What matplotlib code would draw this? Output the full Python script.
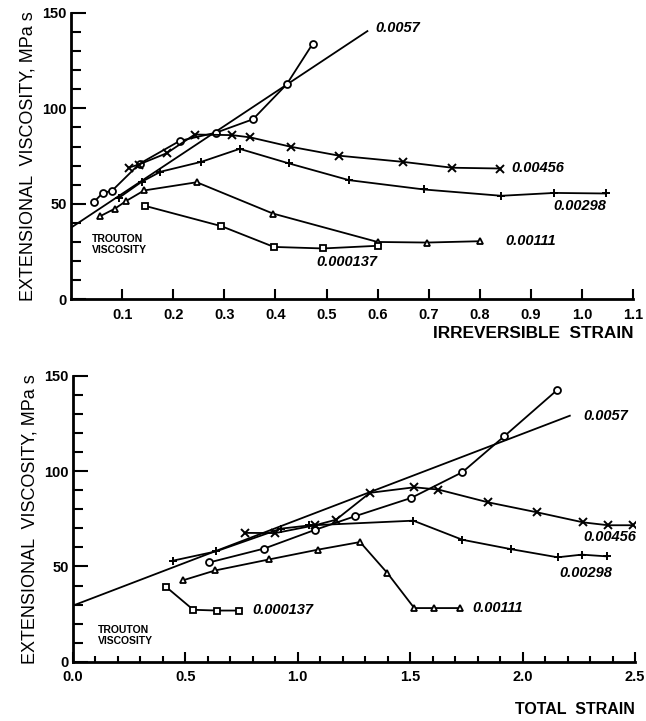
import matplotlib
matplotlib.use("Agg")
import matplotlib.pyplot as plt
from matplotlib.ticker import MultipleLocator

plt.rcParams['font.family'] = ['Liberation Sans', 'DejaVu Sans']
narrow = ["Liberation Sans Narrow", "Liberation Sans", "DejaVu Sans"]

# ---- irreversible strain panel ----
irr_fit_x = [0.0, 0.58]
irr_fit_y = [37.5, 140.5]

irr_c57_x = [0.045, 0.062, 0.080, 0.134, 0.213, 0.284, 0.356, 0.422, 0.473]
irr_c57_y = [51.0, 55.7, 56.8, 71.0, 83.0, 87.3, 94.3, 112.6, 133.9]

irr_c456_x = [0.113, 0.132, 0.187, 0.242, 0.315, 0.351, 0.430, 0.525, 0.649, 0.746, 0.840]
irr_c456_y = [69.0, 70.5, 76.5, 86.3, 86.0, 84.8, 79.9, 75.2, 72.0, 68.9, 68.5]

irr_c298_x = [0.093, 0.138, 0.175, 0.255, 0.330, 0.426, 0.544, 0.691, 0.842, 0.946, 1.047]
irr_c298_y = [53.0, 61.5, 66.8, 72.0, 78.8, 71.2, 62.4, 57.5, 54.2, 55.7, 55.4]

irr_c111_x = [0.057, 0.086, 0.108, 0.143, 0.246, 0.395, 0.600, 0.697, 0.801]
irr_c111_y = [43.5, 47.5, 51.5, 57.0, 61.3, 44.9, 30.0, 29.7, 30.4]

irr_c137_x = [0.145, 0.294, 0.397, 0.493, 0.600]
irr_c137_y = [48.9, 38.3, 27.4, 26.6, 28.0]

irr_ticks = [0.1, 0.2, 0.3, 0.4, 0.5, 0.6, 0.7, 0.8, 0.9, 1.0, 1.1]
irr_ticklabels = ["0.1", "0.2", "0.3", "0.4", "0.5", "0.6", "0.7", "0.8", "0.9", "1.0", "1.1"]

# ---- total strain panel ----
tot_fit_x = [0.0, 2.21]
tot_fit_y = [29.5, 129.0]

tot_c57_x = [0.606, 0.851, 1.077, 1.254, 1.504, 1.732, 1.919, 2.152]
tot_c57_y = [52.1, 59.4, 69.2, 76.3, 85.9, 99.4, 118.3, 142.3]

tot_c456_x = [0.765, 0.90, 1.077, 1.170, 1.321, 1.518, 1.625, 1.847, 2.063, 2.270, 2.380, 2.493]
tot_c456_y = [67.6, 67.5, 71.6, 74.5, 88.6, 91.5, 90.3, 83.6, 78.4, 73.1, 71.6, 71.6]

tot_c298_x = [0.443, 0.636, 0.924, 1.050, 1.514, 1.732, 1.947, 2.156, 2.263, 2.374]
tot_c298_y = [53.0, 57.9, 69.8, 71.5, 74.0, 64.0, 59.1, 54.8, 56.2, 55.3]

tot_c111_x = [0.488, 0.632, 0.873, 1.089, 1.277, 1.398, 1.518, 1.607, 1.721]
tot_c111_y = [42.7, 47.9, 53.7, 58.8, 62.8, 46.6, 28.2, 28.2, 28.2]

tot_c137_x = [0.412, 0.535, 0.639, 0.740]
tot_c137_y = [39.5, 27.3, 26.9, 26.9]

tot_ticks = [0.0, 0.5, 1.0, 1.5, 2.0, 2.5]
tot_ticklabels = ["0.0", "0.5", "1.0", "1.5", "2.0", "2.5"]

rate_labels = ["0.0057", "0.00456", "0.00298", "0.00111", "0.000137"]

fig = plt.figure(figsize=(6.46, 7.21), dpi=100)
ax1 = fig.add_axes([0.110, 0.585, 0.870, 0.397])
ax2 = fig.add_axes([0.113, 0.082, 0.870, 0.397])

lk = dict(color="black", lw=1.3)
mk = dict(mfc="white", mec="black", mew=1.3, ms=5)


def draw_panel(ax, fit, series):
    ax.plot(fit[0], fit[1], **lk)
    for (x, y, m) in series:
        if m in ("x", "+"):
            ax.plot(x, y, marker=m, ms=6, mew=1.4, **lk)
        else:
            ax.plot(x, y, marker=m, **mk, **lk)


draw_panel(ax1, (irr_fit_x, irr_fit_y),
           [(irr_c57_x, irr_c57_y, "o"),
            (irr_c456_x, irr_c456_y, "x"),
            (irr_c298_x, irr_c298_y, "+"),
            (irr_c111_x, irr_c111_y, "^"),
            (irr_c137_x, irr_c137_y, "s")])

draw_panel(ax2, (tot_fit_x, tot_fit_y),
           [(tot_c57_x, tot_c57_y, "o"),
            (tot_c456_x, tot_c456_y, "x"),
            (tot_c298_x, tot_c298_y, "+"),
            (tot_c111_x, tot_c111_y, "^"),
            (tot_c137_x, tot_c137_y, "s")])

lab = dict(fontsize=10.5, style="italic", fontweight="bold", va="center", ha="left")
ax1.text(0.596, 142, rate_labels[0], **lab)
ax1.text(0.862, 68.7, rate_labels[1], **lab)
ax1.text(0.945, 49.0, rate_labels[2], **lab)
ax1.text(0.850, 30.4, rate_labels[3], **lab)
ax1.text(0.480, 19.4, rate_labels[4], **lab)

ax2.text(2.27, 129, rate_labels[0], **lab)
ax2.text(2.27, 65.6, rate_labels[1], **lab)
ax2.text(2.165, 46.7, rate_labels[2], **lab)
ax2.text(1.775, 28.3, rate_labels[3], **lab)
ax2.text(0.796, 27.3, rate_labels[4], **lab)

tr = dict(fontsize=7.5, fontweight="bold", ha="left", va="center", linespacing=1.1, family=narrow)
ax1.text(0.041, 28.5, "TROUTON\nVISCOSITY", **tr)
ax2.text(0.111, 14.0, "TROUTON\nVISCOSITY", **tr)

for ax in (ax1, ax2):
    ax.set_ylim(0, 150)
    ax.spines["top"].set_visible(False)
    ax.spines["right"].set_visible(False)
    ax.spines["left"].set_linewidth(2)
    ax.spines["bottom"].set_linewidth(2)
    ax.yaxis.set_major_locator(MultipleLocator(50))
    ax.yaxis.set_minor_locator(MultipleLocator(10))
    ax.tick_params(axis="both", which="both", direction="in", width=1.5)
    ax.tick_params(axis="y", which="major", length=11, labelsize=10.5, pad=3)
    ax.tick_params(axis="y", which="minor", length=7)
    ax.tick_params(axis="x", which="major", length=7, labelsize=10.5, pad=6)
    ax.tick_params(axis="x", which="minor", length=4)
    ax.set_ylabel("EXTENSIONAL  VISCOSITY, MPa s", fontsize=13, labelpad=4)
    for t in ax.get_yticklabels():
        t.set_fontweight("bold")
        t.set_family(narrow)

ax1.set_xlim(0, 1.1)
ax1.set_xticks(irr_ticks)
ax1.set_xticklabels(irr_ticklabels, fontweight="bold", family=narrow)
ax1.set_xlabel("IRREVERSIBLE  STRAIN", fontsize=12.4, fontweight="bold", family=narrow,
               loc="right", labelpad=3)

ax2.set_xlim(0, 2.5)
ax2.set_xticks(tot_ticks)
ax2.xaxis.set_minor_locator(MultipleLocator(0.1))
ax2.set_xticklabels(tot_ticklabels, fontweight="bold", family=narrow)
ax2.set_xlabel("TOTAL  STRAIN", fontsize=11.5, fontweight="bold", family=narrow,
               loc="right", labelpad=13)

fig.savefig("out.png", dpi=100)
